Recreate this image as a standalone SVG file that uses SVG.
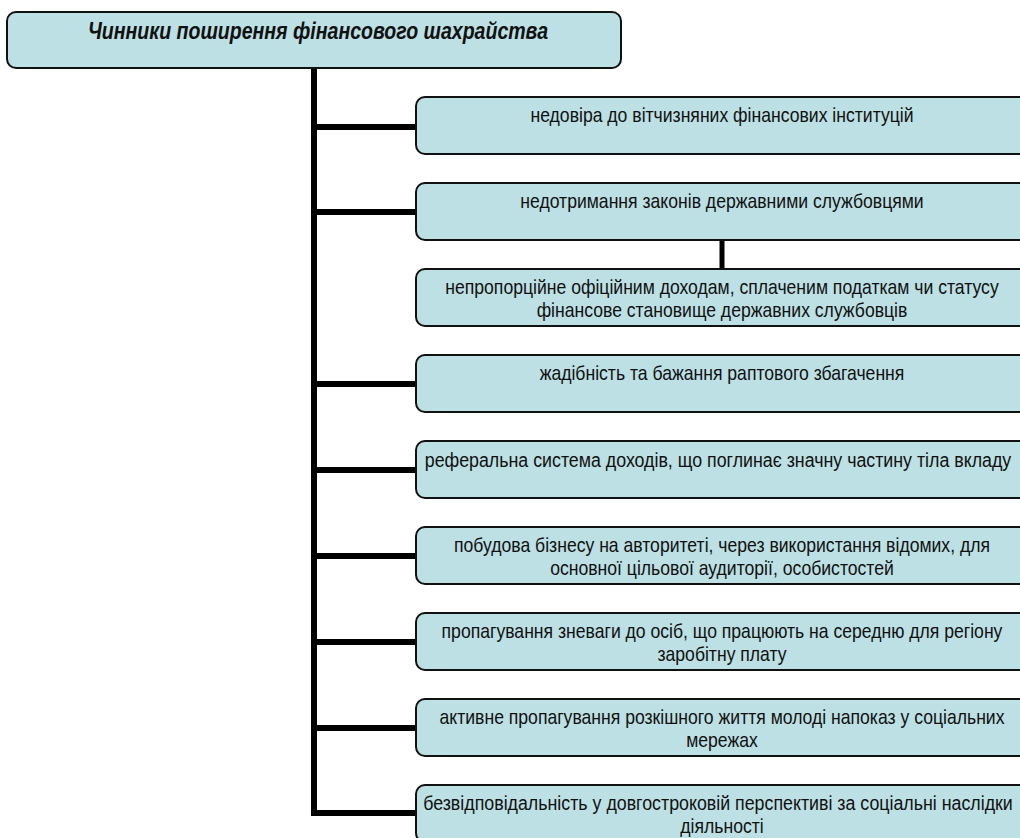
<svg xmlns="http://www.w3.org/2000/svg" width="1020" height="838" viewBox="0 0 1020 838">
<style>
.box{fill:#bce0e3;stroke:#111;stroke-width:2}
.t{font-family:"Liberation Sans",Arial,sans-serif;font-size:20px;fill:#111;text-anchor:middle}
.title{font-family:"Liberation Sans",Arial,sans-serif;font-size:23px;font-weight:bold;font-style:italic;fill:#111;text-anchor:middle}
.c{fill:none;stroke:#000;stroke-width:6;stroke-linejoin:miter;stroke-linecap:butt}
</style>
<rect width="1020" height="838" fill="#fff"/>
<g id="connectors">
<path class="c" d="M314 68 V816 M314 813 H416"/>
<path class="c" d="M314 127 H416 M314 212 H416 M314 384 H416 M314 470 H416 M314 556 H416 M314 642 H416 M314 728 H416"/>
<path class="c" d="M722 240 V269" style="stroke-width:5"/>
</g>
<g id="title">
<rect class="box" x="7" y="12" width="614" height="56" rx="9"/>
<text class="title" transform="translate(318,39) scale(0.85,1)">Чинники поширення фінансового шахрайства</text>
</g>
<g id="n1">
<rect class="box" x="416" y="97" width="612" height="57" rx="9"/>
<text class="t" transform="translate(722,122) scale(0.88,1)">недовіра до вітчизняних фінансових інституцій</text>
</g>
<g id="n2">
<rect class="box" x="416" y="183" width="612" height="57" rx="9"/>
<text class="t" transform="translate(722,208) scale(0.88,1)">недотримання законів державними службовцями</text>
</g>
<g id="n3">
<rect class="box" x="416" y="269" width="612" height="57" rx="9"/>
<text class="t" transform="translate(722,294) scale(0.88,1)">непропорційне офіційним доходам, сплаченим податкам чи статусу</text>
<text class="t" transform="translate(722,317) scale(0.88,1)">фінансове становище державних службовців</text>
</g>
<g id="n4">
<rect class="box" x="416" y="355" width="612" height="57" rx="9"/>
<text class="t" transform="translate(722,380) scale(0.88,1)">жадібність та бажання раптового збагачення</text>
</g>
<g id="n5">
<rect class="box" x="416" y="441" width="612" height="57" rx="9"/>
<text class="t" transform="translate(718,467) scale(0.89,1)">реферальна система доходів, що поглинає значну частину тіла вкладу</text>
</g>
<g id="n6">
<rect class="box" x="416" y="527" width="612" height="57" rx="9"/>
<text class="t" transform="translate(722,552) scale(0.88,1)">побудова бізнесу на авторитеті, через використання відомих, для</text>
<text class="t" transform="translate(722,575) scale(0.88,1)">основної цільової аудиторії, особистостей</text>
</g>
<g id="n7">
<rect class="box" x="416" y="613" width="612" height="57" rx="9"/>
<text class="t" transform="translate(722,638) scale(0.88,1)">пропагування зневаги до осіб, що працюють на середню для регіону</text>
<text class="t" transform="translate(722,661) scale(0.88,1)">заробітну плату</text>
</g>
<g id="n8">
<rect class="box" x="416" y="699" width="612" height="57" rx="9"/>
<text class="t" transform="translate(722,724) scale(0.88,1)">активне пропагування розкішного життя молоді напоказ у соціальних</text>
<text class="t" transform="translate(722,747) scale(0.88,1)">мережах</text>
</g>
<g id="n9">
<rect class="box" x="416" y="785" width="612" height="57" rx="9"/>
<text class="t" transform="translate(718,810) scale(0.89,1)">безвідповідальність у довгостроковій перспективі за соціальні наслідки</text>
<text class="t" transform="translate(722,833) scale(0.88,1)">діяльності</text>
</g>
</svg>
